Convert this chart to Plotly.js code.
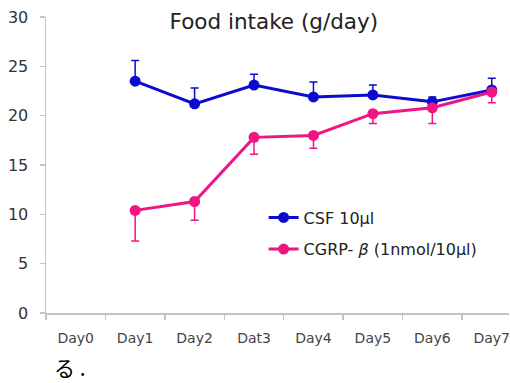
<!DOCTYPE html>
<html>
<head>
<meta charset="utf-8">
<script src="https://cdn.plot.ly/plotly-3.0.1.min.js"></script>
<style>html,body{margin:0;padding:0;background:#fff;}#chart{width:510px;height:383px;}</style>
</head>
<body>
<div id="chart"></div>
<script>
const days = ["Day0", "Day1", "Day2", "Dat3", "Day4", "Day5", "Day6", "Day7"];
const pointDays = ["Day1", "Day2", "Dat3", "Day4", "Day5", "Day6", "Day7"];
const csfValues = [23.5, 21.2, 23.1, 21.9, 22.1, 21.4, 22.6];
const csfErrUp = [2.1, 1.6, 1.1, 1.5, 1.0, 0.5, 1.2];
const cgrpValues = [10.4, 11.3, 17.8, 18.0, 20.2, 20.8, 22.4];
const cgrpErrDown = [3.1, 1.9, 1.7, 1.3, 1.0, 1.6, 1.1];
const yTicks = [0, 5, 10, 15, 20, 25, 30];

const blue = "#0b0bd0";
const pink = "#f01484";
const zeros = csfValues.map(() => 0);
const FONT = "DejaVu Sans, sans-serif";

const traces = [
  {
    x: pointDays, y: csfValues, type: "scatter", mode: "lines+markers",
    name: "CSF 10µl", legend: "legend",
    line: {color: blue, width: 3},
    marker: {color: blue, size: 11},
    error_y: {type: "data", symmetric: false, array: csfErrUp, arrayminus: zeros, color: blue, thickness: 1.5, width: 4}
  },
  {
    x: pointDays, y: cgrpValues, type: "scatter", mode: "lines+markers",
    name: "CGRP- <i>β</i> (1nmol/10µl)", legend: "legend2",
    line: {color: pink, width: 3},
    marker: {color: pink, size: 11},
    error_y: {type: "data", symmetric: false, array: zeros, arrayminus: cgrpErrDown, color: pink, thickness: 1.5, width: 4}
  }
];

const legendBase = {
  xanchor: "left", yanchor: "middle", bgcolor: "rgba(0,0,0,0)",
  font: {family: FONT, size: 16, color: "#222"},
  itemwidth: 30
};

const layout = {
  width: 510, height: 383,
  margin: {l: 46, r: 1, t: 17, b: 70},
  paper_bgcolor: "#fff", plot_bgcolor: "#fff",
  showlegend: true,
  title: {text: "Food intake (g/day)", x: 0.537, xanchor: "center", y: 0.943, yanchor: "middle",
          font: {family: FONT, size: 21.5, color: "#222"}},
  xaxis: {
    type: "category", categoryorder: "array", categoryarray: days,
    range: [-0.5, 7.29], tickson: "boundaries",
    showline: true, linecolor: "#c4c4c4", linewidth: 1.5,
    ticks: "outside", ticklen: 5, tickcolor: "#c4c4c4", tickwidth: 1.5,
    showgrid: false, zeroline: false, ticklabelstandoff: 12,
    tickfont: {family: FONT, size: 14, color: "#444"}
  },
  yaxis: {
    range: [0, 30], tickvals: yTicks,
    showline: true, linecolor: "#c4c4c4", linewidth: 1.5,
    ticks: "outside", ticklen: 5, tickcolor: "#c4c4c4", tickwidth: 1.5,
    showgrid: false, zeroline: false, ticklabelstandoff: 8,
    tickfont: {family: FONT, size: 16, color: "#333"}
  },
  legend: Object.assign({}, legendBase, {x: 0.47, y: 0.3225}),
  legend2: Object.assign({}, legendBase, {x: 0.47, y: 0.2156}),
  annotations: [{
    text: "る .", xref: "paper", yref: "paper", x: 0.012, y: -0.183,
    xanchor: "left", yanchor: "middle", showarrow: false,
    font: {family: "Noto Sans CJK JP, sans-serif", size: 21, color: "#000"}
  }]
};

Plotly.newPlot("chart", traces, layout, {displayModeBar: false, staticPlot: true});
</script>
</body>
</html>
